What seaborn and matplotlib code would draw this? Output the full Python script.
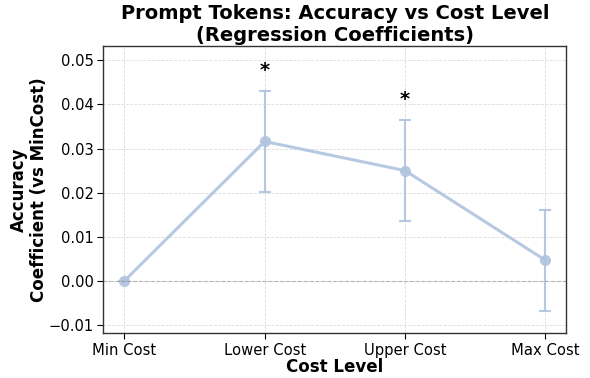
import matplotlib
matplotlib.use("Agg")
import matplotlib.pyplot as plt
import seaborn as sns
import pandas as pd

levels = ["Min Cost", "Lower Cost", "Upper Cost", "Max Cost"]
coef = [0.0, 0.0316, 0.0250, 0.0047]
ci_err = [0.0, 0.0115, 0.0114, 0.0114]
significant = [False, True, True, False]
ytick_vals = [-0.01, 0.0, 0.01, 0.02, 0.03, 0.04, 0.05]

sns.set_theme(style="whitegrid")
plt.rcParams["font.family"] = ["DejaVu Sans"]
plt.rcParams["text.color"] = "black"
plt.rcParams["axes.labelcolor"] = "black"

df = pd.DataFrame({"level": levels, "coef": coef, "err": ci_err, "pos": range(len(levels))})

fig, ax = plt.subplots(figsize=(5.9, 3.78), dpi=100)
color = "#b0c4de"

sns.lineplot(data=df, x="pos", y="coef", ax=ax, color=color, linewidth=2.2,
             marker="o", markersize=8, markeredgewidth=0, alpha=0.9)
ax.errorbar(df["pos"], df["coef"], yerr=df["err"], fmt="none", ecolor=color,
            elinewidth=1.5, capsize=4, capthick=1.5, alpha=0.9)

for p, c, e, s in zip(df["pos"], coef, ci_err, significant):
    if s:
        ax.text(p, c + e + 0.0025, "*", ha="center", va="bottom",
                fontsize=14, fontweight="bold", color="black")

ax.axhline(0, color="gray", linestyle="--", linewidth=0.8, alpha=0.5)

ax.set_xticks(df["pos"])
ax.set_xticklabels(levels)
ax.set_xlim(-0.15, 3.15)
ax.set_ylim(-0.0118, 0.0532)
ax.set_yticks(ytick_vals)
ax.set_yticklabels([f"{v:.2f}".replace("-", "\u2212") for v in ytick_vals])

ax.grid(True, linestyle="--", linewidth=0.6, alpha=0.7, color="#cccccc")
for sp in ax.spines.values():
    sp.set_color("#333333")
    sp.set_linewidth(1.0)

ax.tick_params(axis="both", labelsize=10.6, colors="black", length=4, width=0.8,
               left=True, bottom=True, pad=3)
ax.set_xlabel("Cost Level", fontsize=12, fontweight="bold", labelpad=0.5)
ax.set_ylabel("Accuracy\nCoefficient (vs MinCost)", fontsize=12, fontweight="bold",
              labelpad=0)
ax.set_title("Prompt Tokens: Accuracy vs Cost Level\n(Regression Coefficients)",
             fontsize=14, fontweight="bold", color="black", pad=4)

fig.subplots_adjust(left=0.175, right=0.96, top=0.878, bottom=0.119)
fig.savefig("out.png", dpi=100)
